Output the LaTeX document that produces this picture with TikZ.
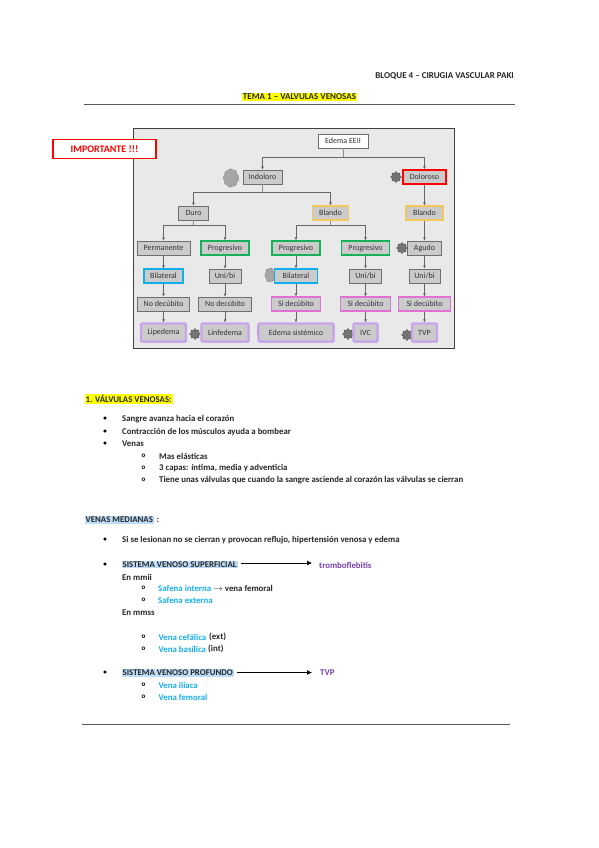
\documentclass[tikz,border=0pt]{standalone}
\usepackage{fontspec}
\setmainfont{Carlito}
\usetikzlibrary{shapes.geometric,arrows.meta,shadows}
\definecolor{amarillo}{HTML}{FFFF00}
\definecolor{celeste}{HTML}{BDDCF8}
\definecolor{azulvena}{HTML}{17AEEE}
\definecolor{morado}{HTML}{7A3FB0}
\definecolor{panelgris}{HTML}{E9E9E9}
\definecolor{cajagris}{HTML}{CBCBCB}
\definecolor{bordegris}{HTML}{6E6E6E}
\definecolor{verdecaja}{HTML}{16B25A}
\definecolor{azulcaja}{HTML}{12AEEA}
\definecolor{rosacaja}{HTML}{E070D4}
\definecolor{lilacaja}{HTML}{C8A4EE}
\definecolor{orocaja}{HTML}{F2C85C}
\tikzset{
	caja/.style={draw=bordegris,fill=cajagris,line width=0.7pt,minimum height=14pt,inner sep=0pt,font=\fontsize{8}{9}\selectfont,text=black!80,drop shadow={shadow xshift=0.9pt,shadow yshift=-0.9pt,fill=black!45,opacity=1}},
	verde/.style={caja,draw=verdecaja,line width=1.2pt},
	azul/.style={caja,draw=azulcaja,line width=1.1pt},
	rosa/.style={caja,draw=rosacaja,line width=1.1pt},
	lila/.style={caja,draw=lilacaja,line width=2.2pt,minimum height=18pt,rounded corners=1pt},
	oro/.style={caja,draw=orocaja,line width=1.1pt},
	flecha/.style={draw=black!60,line width=0.8pt,-{Latex[length=3pt,width=3pt]}},
	rama/.style={draw=black!45,line width=0.8pt},
	texto/.style={anchor=west,inner sep=0pt,font=\fontsize{8.8}{10}\selectfont\bfseries,text=black!85},
	vena/.style={texto,text=azulvena},
	marca/.style={inner sep=0pt,font=\fontsize{7}{9}\selectfont\bfseries},
	raya/.style={draw=black!65,line width=0.9pt},
	engranaje/.style={star,star points=8,star point ratio=1.35,fill=black!55,draw=black!65,inner sep=0pt,minimum size=11pt},
	mancha/.style={ellipse,dashed,draw=black!60,fill=black!35,inner sep=0pt},
	envio/.style={draw=black,line width=0.7pt,-{Latex[length=5pt,width=5pt]}}
}
\begin{document}
\begin{tikzpicture}[x=1pt,y=-1pt]
	\useasboundingbox (0,0) rectangle (599,848);
	\fill[white] (0,0) rectangle (599,848);
	% cabecera
	\node[texto,anchor=east,font=\fontsize{9}{10}\selectfont\bfseries] (bloque) at (514,76) {BLOQUE 4 -- CIRUGIA VASCULAR PAKI};
	\node[texto,anchor=center,fill=amarillo,inner sep=1pt,font=\fontsize{9}{10}\selectfont\bfseries] (tema) at (299.5,97) {TEMA 1 -- VALVULAS VENOSAS};
	\coordinate (rayaa) at (84,104);
	\coordinate (rayab) at (515,104);
	\draw[raya] (rayaa) -- (rayab);
	% panel
	\node[draw=black!75,fill=panelgris,line width=0.9pt,minimum width=321pt,minimum height=220pt,inner sep=0pt] (panel) at (293.5,238) {};
	\node[draw=red,fill=white,line width=1.2pt,minimum width=103pt,minimum height=19pt,inner sep=0pt,text=red,font=\fontsize{10}{11}\selectfont\bfseries] (importante) at (104.5,149) {IMPORTANTE !!!};
	% manchas
	\node[mancha,minimum width=15pt,minimum height=18pt] (manchaa) at (231,178) {};
	\node[mancha,minimum width=10pt,minimum height=14pt] (manchab) at (270,275) {};
	\node[mancha,minimum width=8pt,minimum height=14pt] (manchac) at (261,331) {};
	\foreach \n/\x/\y in {gearb/396/177, gearc/402/248, geard/195/334, geare/348/334, gearf/407/335}
		\node[engranaje] (\n) at (\x,\y) {};
	% cajas
	\node[caja,fill=white,minimum width=50pt] (edema) at (343,141) {Edema EEII};
	\node[caja,minimum width=39pt] (indoloro) at (262.5,177) {Indoloro};
	\node[caja,draw=red,line width=1.3pt,minimum width=43pt] (doloroso) at (424.5,177) {Doloroso};
	\node[caja,minimum width=30pt] (duro) at (193.5,213) {Duro};
	\node[oro,minimum width=36pt] (blandoa) at (330.5,213) {Blando};
	\node[oro,minimum width=37pt] (blandob) at (424.5,213) {Blando};
	\node[caja,minimum width=53pt] (permanente) at (163.5,248) {Permanente};
	\node[verde,minimum width=48pt] (progresa) at (225,248) {Progresivo};
	\node[verde,minimum width=48pt] (progresb) at (296,248) {Progresivo};
	\node[verde,minimum width=48pt] (progresc) at (365.5,248) {Progresivo};
	\node[caja,minimum width=34pt] (agudo) at (424.5,248) {Agudo};
	\node[azul,minimum width=39pt] (bilaterala) at (163.5,276) {Bilateral};
	\node[caja,minimum width=32pt] (unia) at (225,276) {Uni/bi};
	\node[azul,minimum width=43pt] (bilateralb) at (296,276) {Bilateral};
	\node[caja,minimum width=32pt] (unib) at (365.5,276) {Uni/bi};
	\node[caja,minimum width=31pt] (unic) at (424.5,276) {Uni/bi};
	\node[caja,minimum width=52pt] (nodeca) at (163.5,304) {No decúbito};
	\node[caja,minimum width=53pt] (nodecb) at (225,304) {No decúbito};
	\node[rosa,minimum width=49pt] (sideca) at (296,304) {Si decúbito};
	\node[rosa,minimum width=50pt] (sidecb) at (365.5,304) {Si decúbito};
	\node[rosa,minimum width=52pt] (sidecc) at (424.5,304) {Si decúbito};
	\node[lila,minimum width=45pt] (lipedema) at (163.5,332.5) {Lipedema};
	\node[lila,minimum width=47pt] (linfedema) at (225,332.5) {Linfedema};
	\node[lila,minimum width=75pt] (sistemico) at (296,332.5) {Edema sistémico};
	\node[lila,minimum width=24pt] (ivc) at (365.5,332.5) {IVC};
	\node[lila,minimum width=25pt] (tvpc) at (424.5,332.5) {TVP};
	% ramas
	\coordinate (nudoa) at (343,157);
	\coordinate (nudob) at (262.5,192);
	\coordinate (nudoc) at (193.5,225);
	\coordinate (nudod) at (330.5,225);
	\draw[rama] (edema) -- (nudoa);
	\draw[rama] (indoloro) -- (nudob);
	\draw[rama] (duro) -- (nudoc);
	\draw[rama] (blandoa) -- (nudod);
	\draw[flecha] (nudoa) -| (indoloro);
	\draw[flecha] (nudoa) -| (doloroso);
	\draw[flecha] (nudob) -| (duro);
	\draw[flecha] (nudob) -| (blandoa);
	\draw[flecha] (nudoc) -| (permanente);
	\draw[flecha] (nudoc) -| (progresa);
	\draw[flecha] (nudod) -| (progresb);
	\draw[flecha] (nudod) -| (progresc);
	\foreach \a/\b in {doloroso/blandob, blandob/agudo, agudo/unic, unic/sidecc, sidecc/tvpc,
		permanente/bilaterala, bilaterala/nodeca, nodeca/lipedema,
		progresa/unia, unia/nodecb, nodecb/linfedema,
		progresb/bilateralb, bilateralb/sideca, sideca/sistemico,
		progresc/unib, unib/sidecb, sidecb/ivc}
		\draw[flecha] (\a) -- (\b);
	% apartado 1
	\node[texto,fill=amarillo,inner sep=1pt] (valvulas) at (84.5,399) {1. VÁLVULAS VENOSAS:};
	\foreach \n/\y/\t in {sangre/419/{Sangre avanza hacia el corazón}, contraccion/432/{Contracción de los músculos ayuda a bombear}, venas/444/{Venas}, medianaa/540/{Si se lesionan no se cierran y provocan reflujo, hipertensión venosa y edema}}{
		\node[marca] at (105,\y) {•};
		\node[texto] (\n) at (122,\y) {\t};
	}
	\foreach \n/\y/\t in {elasticas/456/{Mas elásticas}, capas/468/{3 capas: íntima, media y adventicia}, valvas/480/{Tiene unas válvulas que cuando la sangre asciende al corazón las válvulas se cierran}}{
		\node[marca] at (143.5,\y) {o};
		\node[texto] (\n) at (159,\y) {\t};
	}
	% venas medianas
	\node[texto,fill=celeste,inner sep=1pt] (medianas) at (84.5,520) {VENAS MEDIANAS};
	\node[texto] (dospuntos) at (156.5,520) {:};
	% superficial
	\node[marca] at (105,565) {•};
	\node[texto,fill=celeste,inner sep=1pt] (superficial) at (121.5,564.5) {SISTEMA VENOSO SUPERFICIAL};
	\node[texto,text=morado] (trombo) at (319,565) {tromboflebitis};
	\coordinate (finsup) at (312,563);
	\coordinate (inisup) at (241,563);
	\draw[envio] (inisup) -- (finsup);
	\node[texto] (mmii) at (122,577) {En mmii};
	\node[marca] at (143.5,588) {o};
	\node[vena] (interna) at (158,588) {Safena interna};
	\node[texto] (femoral) at (213.5,588) {$\rightarrow$ vena femoral};
	\node[marca] at (143.5,600) {o};
	\node[vena] (externa) at (158,600) {Safena externa};
	\node[texto] (mmss) at (122,613) {En mmss};
	\node[marca] at (143.5,637) {o};
	\node[vena] (cefalica) at (158.5,637) {Vena cefálica};
	\node[texto] (ext) at (209,637) {(ext)};
	\node[marca] at (143.5,649) {o};
	\node[vena] (basilica) at (158.5,649) {Vena basílica};
	\node[texto] (int) at (208,649) {(int)};
	% profundo
	\node[marca] at (105,673) {•};
	\node[texto,fill=celeste,inner sep=1pt] (profundo) at (121.5,673) {SISTEMA VENOSO PROFUNDO};
	\node[texto,text=morado] (tvp) at (320,673) {TVP};
	\coordinate (iniprof) at (237,672.5);
	\coordinate (finprof) at (312,672.5);
	\draw[envio] (iniprof) -- (finprof);
	\node[marca] at (143.5,685) {o};
	\node[vena] (iliaca) at (158.5,685) {Vena ilíaca};
	\node[marca] at (143.5,697) {o};
	\node[vena] (vfemoral) at (158.5,697) {Vena femoral};
	\coordinate (rayac) at (82,724);
	\coordinate (rayad) at (510,724);
	\draw[raya] (rayac) -- (rayad);
\end{tikzpicture}
\end{document}
